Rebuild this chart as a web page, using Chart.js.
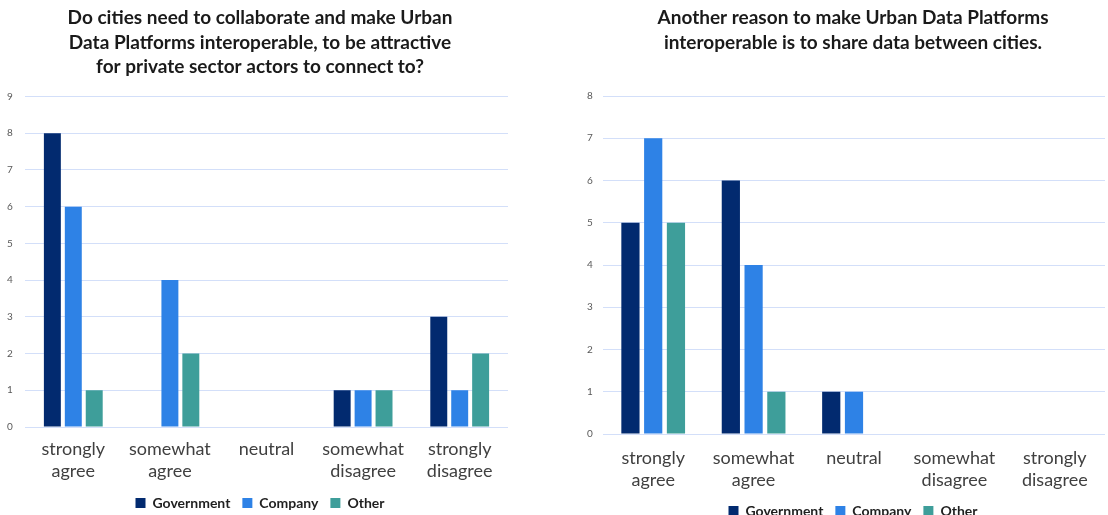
<!DOCTYPE html>
<html>
<head>
<meta charset="utf-8">
<script src="https://cdn.jsdelivr.net/npm/chart.js@4.4.1/dist/chart.umd.min.js"></script>
<style>
  html, body { margin: 0; padding: 0; background: #fff; overflow: hidden; }
  body { width: 1108px; height: 515px; position: relative; }
  .box { position: absolute; top: 0; }
  #leftBox { left: 0; width: 520px; height: 520px; }
  #rightBox { left: 575px; width: 556px; height: 528px; }
</style>
</head>
<body>
<div class="box" id="leftBox"><canvas id="leftChart"></canvas></div>
<div class="box" id="rightBox"><canvas id="rightChart"></canvas></div>
<script>
// Answer categories shared by both questions
const categories = [
  ["strongly", "agree"],
  ["somewhat", "agree"],
  ["neutral"],
  ["somewhat", "disagree"],
  ["strongly", "disagree"]
];

// Question 1: collaboration to attract private sector actors
const q1Title = [
  "Do cities need to collaborate and make Urban",
  "Data Platforms interoperable, to be attractive",
  "for private sector actors to connect to?"
];
const q1Government = [8, 0, 0, 1, 3];
const q1Company    = [6, 4, 0, 1, 1];
const q1Other      = [1, 2, 0, 1, 2];
const q1Max = 9;

// Question 2: sharing data between cities
const q2Title = [
  "Another reason to make Urban Data Platforms",
  "interoperable is to share data between cities."
];
const q2Government = [5, 6, 1, 0, 0];
const q2Company    = [7, 4, 1, 0, 0];
const q2Other      = [5, 1, 0, 0, 0];
const q2Max = 8;

const seriesNames = ["Government", "Company", "Other"];
const seriesColors = ["#022a6f", "#2e82e6", "#3e9e9a"];

const FONT = "Lato, 'Liberation Sans', sans-serif";

function buildChart(canvasId, title, values, yMax, opts) {
  return new Chart(document.getElementById(canvasId), {
    type: "bar",
    data: {
      labels: categories,
      datasets: values.map((v, i) => ({
        label: seriesNames[i],
        data: v,
        backgroundColor: seriesColors[i],
        borderWidth: 0,
        barPercentage: opts.barPct,
        categoryPercentage: opts.catPct
      }))
    },
    options: {
      responsive: true,
      maintainAspectRatio: false,
      animation: false,
      layout: { padding: opts.padding },
      plugins: {
        title: {
          display: true,
          text: title,
          color: "#1a1a1a",
          font: { family: FONT, size: 19, weight: "bold", lineHeight: 1.29 },
          padding: opts.titlePad
        },
        legend: {
          position: "bottom",
          labels: {
            boxWidth: 10,
            boxHeight: 10,
            padding: 12,
            color: "#1f1f1f",
            font: { family: FONT, size: 14, weight: "bold" }
          }
        },
        tooltip: { enabled: false }
      },
      scales: {
        x: {
          grid: { display: false, drawTicks: false },
          border: { display: false },
          ticks: {
            color: "#404040",
            padding: opts.xTickPad,
            maxRotation: 0,
            autoSkip: false,
            font: { family: FONT, size: 18, lineHeight: 1.222 }
          },
          afterFit: (scale) => { scale.height = opts.xHeight; }
        },
        y: {
          min: 0,
          max: yMax,
          grid: { color: "#d3dff9", lineWidth: 1, drawTicks: false },
          border: { display: false },
          ticks: {
            stepSize: 1,
            // single-digit labels sit left of the plot, drawn unclipped
            mirror: true,
            padding: opts.yTickPad,
            color: "#595959",
            font: { family: FONT, size: 10 }
          },
          afterFit: (scale) => { scale.width = opts.yWidth; }
        }
      }
    }
  });
}

buildChart("leftChart", q1Title, [q1Government, q1Company, q1Other], q1Max, {
  barPct: 0.81, catPct: 0.65,
  padding: { left: 12, right: 12, top: 0, bottom: 0 },
  titlePad: { top: 6, bottom: 17 },
  xTickPad: 11, xHeight: 57, yTickPad: -18, yWidth: 13
});

buildChart("rightChart", q2Title, [q2Government, q2Company, q2Other], q2Max, {
  barPct: 0.8, catPct: 0.68,
  padding: { left: 26, right: 26, top: 0, bottom: 0 },
  titlePad: { top: 6, bottom: 41 },
  xTickPad: 13, xHeight: 58, yTickPad: -16, yWidth: 2
});
</script>
</body>
</html>
